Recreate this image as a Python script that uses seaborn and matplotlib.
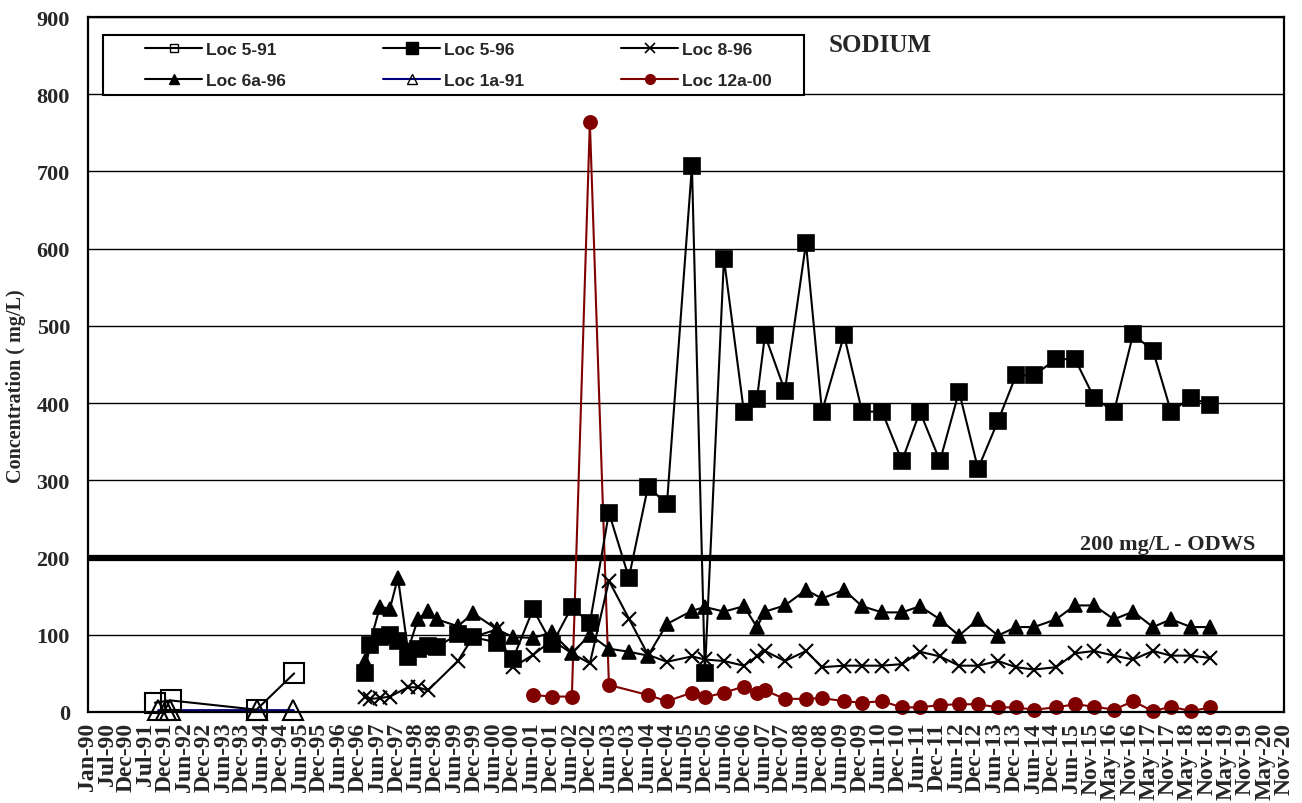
import numpy as np
import pandas as pd
import matplotlib
matplotlib.use("Agg")
import matplotlib.pyplot as plt
import matplotlib.dates as mdates
from matplotlib.lines import Line2D
from matplotlib.patches import Rectangle
import seaborn as sns

# ---- data (mg/L) ----
dates_5_91 = ["1991-09-24", "1992-02-20", "1994-05-10", "1995-04-30"]
loc_5_91 = [12, 15, 3, 50]

dates_1a_91 = ["1991-10-22", "1992-01-06", "1992-02-13", "1994-05-14", "1995-04-18"]
loc_1a_91 = [2, 2, 2, 2, 2]

dates_96 = [
    "1997-02-26", "1997-04-14", "1997-07-17", "1997-10-20", "1998-01-03",
    "1998-04-08", "1998-07-10", "1998-10-13", "1999-01-06", "1999-07-23",
    "1999-12-12", "2000-07-26", "2000-12-24", "2001-07-01", "2001-12-27",
    "2002-07-02", "2002-12-19", "2003-06-17", "2003-12-22", "2004-06-20",
    "2004-12-15", "2005-08-08", "2005-12-08", "2006-06-06", "2006-12-11",
    "2007-04-13", "2007-06-28", "2008-01-02", "2008-07-19", "2008-12-17",
    "2009-07-13", "2009-12-30", "2010-07-07", "2011-01-11", "2011-06-29",
    "2012-01-04", "2012-07-02", "2012-12-28", "2013-07-05", "2013-12-22",
    "2014-06-10", "2015-01-03", "2015-07-01", "2015-12-28", "2016-07-03",
    "2016-12-30", "2017-07-06", "2017-12-23", "2018-06-30", "2018-12-26",
]
loc_5_96 = [51, 87, 97, 100, 92, 71, 82, 85, 84, 101,
            97, 90, 69, 133, 88, 136, 115, 258, 174, 292,
            269, 707, 50, 587, 389, 405, 488, 416, 607, 389,
            488, 389, 389, 325, 389, 325, 415, 315, 377, 436,
            436, 457, 457, 407, 389, 489, 468, 389, 407, 398]
loc_6a_96 = [66, None, 136, 134, 174, 80, 120, 131, 120, 111,
             128, 107, 97, 96, 103, 76, 100, 82, 78, 73,
             114, 131, 136, 130, 137, 110, 130, 138, 158, 147,
             158, 137, 129, 129, 137, 120, 99, 120, 99, 110,
             110, 120, 138, 138, 120, 130, 110, 120, 110, 110]
loc_8_96 = [19, 17, 18, 20, None, 32, 32, 28, None, 66,
            97, 107, 58, 74, 93, 76, 63, 170, 121, 74,
            65, 72, 68, 66, 60, 72, 79, 66, 79, 58,
            60, 60, 60, 62, 78, 72, 60, 60, 66, 58,
            55, 58, 76, 79, 73, 68, 79, 73, 73, 70]
loc_12a_00 = [None] * 13 + [
    22, 20, 20, 764, 35, None, 22, 14, 25, 19,
    25, 33, 25, 28, 17, 17, 18, 14, 12, 14,
    6, 6, 9, 10, 10, 6, 6, 3, 6, 10,
    7, 3, 14, 1, 7, 1, 6]

odws_limit = 200

sns.set_style("white")
plt.rcParams["font.family"] = ["Liberation Serif", "DejaVu Serif"]

fig = plt.figure(figsize=(13.02, 8.04), dpi=100)
ax = fig.add_axes([88 / 1302, 91 / 804, 1196 / 1302, 695 / 804])

dark_red = "#800000"
navy = "#000080"


def draw_series(dates, values, color, marker, ms, mfc, mec, mew=1.2, lw=1.5):
    df = pd.DataFrame({"date": pd.to_datetime(dates), "value": values}).dropna()
    sns.lineplot(data=df, x="date", y="value", ax=ax, color=color, marker=marker,
                 markersize=ms, markerfacecolor=mfc, markeredgecolor=mec,
                 markeredgewidth=mew, linewidth=lw, estimator=None, sort=False,
                 clip_on=False)


draw_series(dates_96, loc_12a_00, dark_red, "o", 9.5, dark_red, dark_red)
draw_series(dates_1a_91, loc_1a_91, navy, "^", 14, "none", "black", mew=1.5, lw=2)
draw_series(dates_5_91, loc_5_91, "black", "s", 14, "none", "black", mew=1.5)
draw_series(dates_96, loc_8_96, "black", "x", 10, "black", "black", mew=1.5)
draw_series(dates_96, loc_6a_96, "black", "^", 10.5, "black", "black")
draw_series(dates_96, loc_5_96, "black", "s", 11, "black", "black")

ax.axhline(odws_limit, color="black", lw=4.5, zorder=1.5)

# axes
start = pd.Timestamp("1990-01-01")
ticks = [start + pd.Timedelta(days=182 * i) for i in range(63)]
ax.set_xlim(ticks[0], ticks[-1])
ax.set_xticks(ticks)
ax.xaxis.set_major_formatter(mdates.DateFormatter("%b-%y"))
ax.set_ylim(0, 900)
ax.set_yticks(np.arange(0, 901, 100))
ax.yaxis.grid(True, color="black", lw=1)
ax.xaxis.grid(False)
ax.set_axisbelow(True)

for lab in ax.get_xticklabels():
    lab.set_rotation(90)
    lab.set_fontsize(17)
    lab.set_fontweight("bold")
for lab in ax.get_yticklabels():
    lab.set_fontsize(16)
    lab.set_fontweight("bold")
ax.tick_params(axis="both", direction="out", length=5, width=1.2, color="black")
ax.tick_params(axis="x", pad=2)
ax.tick_params(axis="y", pad=8)

for sp in ax.spines.values():
    sp.set_color("black")
    sp.set_linewidth(1.6)

ax.set_xlabel("")
ax.set_ylabel("Concentration ( mg/L)", fontsize=14.5, fontweight="bold")
ax.yaxis.set_label_coords(-0.0515, 0.47)

# legend
ax.add_patch(Rectangle((0.0125, 0.888), 0.586, 0.086, transform=ax.transAxes,
                       facecolor="white", edgecolor="black", lw=1.5, zorder=5))
handles = [
    Line2D([], [], color="black", marker="s", ms=6, mfc="none", mec="black", lw=1.5),
    Line2D([], [], color="black", marker="^", ms=7, mfc="black", mec="black", lw=1.5),
    Line2D([], [], color="black", marker="s", ms=8, mfc="black", mec="black", lw=1.5),
    Line2D([], [], color=navy, marker="^", ms=7, mfc="none", mec="black", lw=1.5),
    Line2D([], [], color="black", marker="x", ms=7, mec="black", mew=1.2, lw=1.5),
    Line2D([], [], color=dark_red, marker="o", ms=7, mfc=dark_red, mec=dark_red, lw=1.5),
]
labels = ["Loc 5-91", "Loc 6a-96", "Loc 5-96", "Loc 1a-91", "Loc 8-96", "Loc 12a-00"]
leg = ax.legend(handles, labels, ncol=3, loc="upper left", bbox_to_anchor=(0.0375, 0.982),
                frameon=False, handlelength=3.3, handletextpad=0.2, columnspacing=5.6,
                labelspacing=0.95, borderpad=0.2,
                prop={"family": "Liberation Sans", "weight": "bold", "size": 12.5})
leg.set_zorder(6)

ax.text(0.619, 0.96, "SODIUM", transform=ax.transAxes, ha="left", va="center",
        fontsize=18, fontweight="bold", zorder=7)
ax.text(0.976, 0.242, "200 mg/L - ODWS", transform=ax.transAxes, ha="right", va="center",
        fontsize=16, fontweight="bold", zorder=7)

fig.savefig("out.png", dpi=100)
